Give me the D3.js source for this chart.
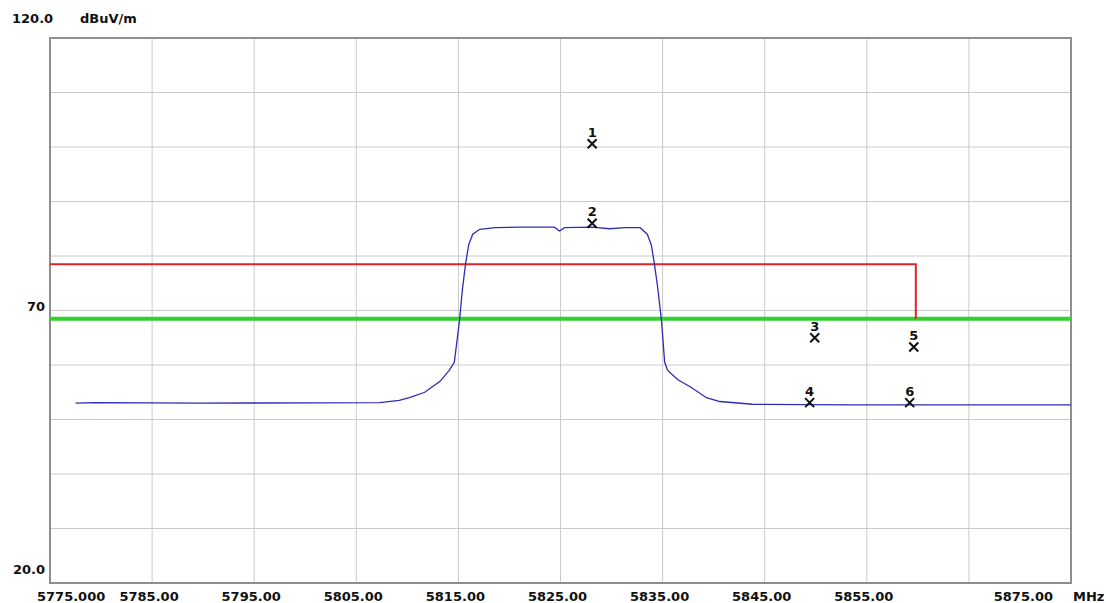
<!DOCTYPE html>
<html>
<head>
<meta charset="utf-8">
<script src="https://cdn.jsdelivr.net/npm/d3@7"></script>
<style>
  body { margin: 0; background: #fff; }
  text { font-family: "DejaVu Sans", sans-serif; font-weight: bold; font-size: 13px; fill: #111; }
</style>
</head>
<body>
<div id="graph"></div>
<script>
//************************************ Part 0. Data ************************************//
// spectrum trace
var traceFreq  = [5777.5, 5779.4, 5789.7, 5807.3, 5809.2, 5810.2, 5811.7, 5813.2, 5814.1, 5814.6, 5814.9, 5815.1, 5815.4, 5815.7, 5816.0, 5816.4, 5817.1, 5818.6, 5821.0, 5824.4, 5824.9, 5825.4, 5828.1, 5829.8, 5831.3, 5832.8, 5833.5, 5833.9, 5834.2, 5834.5, 5834.9, 5835.2, 5835.5, 5836.5, 5837.7, 5839.3, 5840.6, 5843.8, 5853.3, 5875.0];
var traceLevel = [53.0, 53.1, 53.0, 53.1, 53.5, 54.0, 55.0, 57.0, 59.0, 60.5, 65.0, 68.0, 74.0, 78.5, 82.0, 84.0, 84.9, 85.2, 85.3, 85.3, 84.6, 85.2, 85.3, 85.0, 85.2, 85.2, 84.0, 82.0, 78.5, 74.5, 68.0, 60.5, 59.0, 57.3, 56.0, 54.0, 53.3, 52.8, 52.7, 52.7];

// markers
var markerIds   = ["1", "2", "3", "4", "5", "6"];
var markerFreq  = [5828.1, 5828.1, 5849.9, 5849.4, 5859.6, 5859.2];
var markerLevel = [100.6, 86.0, 65.0, 53.1, 63.3, 53.1];

// limit lines
var redLimit = 78.5, redEnd = 5859.8;
var greenLimit = 68.5;

// axes
var xTickVals   = [5775, 5785, 5795, 5805, 5815, 5825, 5835, 5845, 5855, 5875];
var xTickLabels = ["5775.000", "5785.00", "5795.00", "5805.00", "5815.00", "5825.00", "5835.00", "5845.00", "5855.00", "5875.00"];
var yTickVals   = [120, 70, 20];
var yTickLabels = ["120.0", "70", "20.0"];

//************************************ Part 1. Setup ************************************//
var width = 1106, height = 603;
var margin = {top: 38, right: 35, bottom: 20, left: 50};

var x = d3.scaleLinear().domain([5775, 5875]).range([margin.left, width - margin.right]);
var y = d3.scaleLinear().domain([20, 120]).range([height - margin.bottom, margin.top]);

var svg = d3.select('#graph').append('svg')
    .attr('width', width)
    .attr('height', height);

//grid
svg.append('g').selectAll('line').data(d3.range(5785, 5875, 10)).enter().append('line')
    .attr('x1', function(d) { return x(d); }).attr('x2', function(d) { return x(d); })
    .attr('y1', y(120)).attr('y2', y(20))
    .style('stroke', '#cacaca').style('stroke-width', 1);
svg.append('g').selectAll('line').data(d3.range(30, 120, 10)).enter().append('line')
    .attr('x1', x(5775)).attr('x2', x(5875))
    .attr('y1', function(d) { return y(d); }).attr('y2', function(d) { return y(d); })
    .style('stroke', '#cacaca').style('stroke-width', 1);

//frame
svg.append('rect')
    .attr('x', x(5775)).attr('y', y(120))
    .attr('width', x(5875) - x(5775)).attr('height', y(20) - y(120))
    .style('fill', 'none').style('stroke', '#8e8e8e').style('stroke-width', 2);

//************************************ Part 2. Lines ************************************//
var line = d3.line()
    .x(function(d) { return x(d[0]); })
    .y(function(d) { return y(d[1]); });

// green limit
svg.append('path')
    .datum([[5775, greenLimit], [5875, greenLimit]])
    .attr('d', line)
    .style('fill', 'none').style('stroke', '#2fd12f').style('stroke-width', 4);

// red limit, steps down to green at the band edge
svg.append('path')
    .datum([[5775, redLimit], [redEnd, redLimit], [redEnd, greenLimit]])
    .attr('d', line)
    .style('fill', 'none').style('stroke', '#d8262a').style('stroke-width', 2);

// trace
var trace = traceFreq.map(function(f, i) { return [f, traceLevel[i]]; });
svg.append('path')
    .datum(trace)
    .attr('d', line)
    .style('fill', 'none').style('stroke', '#2c2cb4').style('stroke-width', 1.3);

//************************************ Part 3. Markers ************************************//
var markers = markerIds.map(function(id, i) { return {id: id, f: markerFreq[i], v: markerLevel[i]}; });
var mk = svg.append('g').selectAll('g').data(markers).enter().append('g')
    .attr('transform', function(d) { return 'translate(' + x(d.f) + ',' + y(d.v) + ')'; });
mk.append('path')
    .attr('d', 'M-4.5,-4.5L4.5,4.5M-4.5,4.5L4.5,-4.5')
    .style('stroke', '#111').style('stroke-width', 2);
mk.append('text')
    .attr('text-anchor', 'middle')
    .attr('y', -7)
    .style('font-size', '13px')
    .text(function(d) { return d.id; });

//************************************ Part 4. Labels ************************************//
svg.append('g').selectAll('text').data(yTickVals).enter().append('text')
    .attr('text-anchor', function(d, i) { return i == 0 ? 'start' : 'end'; })
    .attr('x', function(d, i) { return i == 0 ? 12 : 45; })
    .attr('y', function(d, i) { return i == 0 ? 23 : y(d) - 9 + (i == 1 ? 9.5 : 0); })
    .text(function(d, i) { return yTickLabels[i]; });

svg.append('text').attr('x', 80).attr('y', 23).text('dBuV/m');

svg.append('g').selectAll('text').data(xTickVals).enter().append('text')
    .attr('text-anchor', function(d, i) { if (i == 0) {return 'start'} else if (i == xTickVals.length - 1) {return 'end'} else {return 'middle'} })
    .attr('x', function(d, i) { if (i == 0) {return x(d) - 13} else if (i == xTickVals.length - 1) {return x(d) - 18} else {return x(d) - 3} })
    .attr('y', 601)
    .text(function(d, i) { return xTickLabels[i]; });

svg.append('text').attr('x', x(5875) + 2).attr('y', 601).text('MHz');
</script>
</body>
</html>
